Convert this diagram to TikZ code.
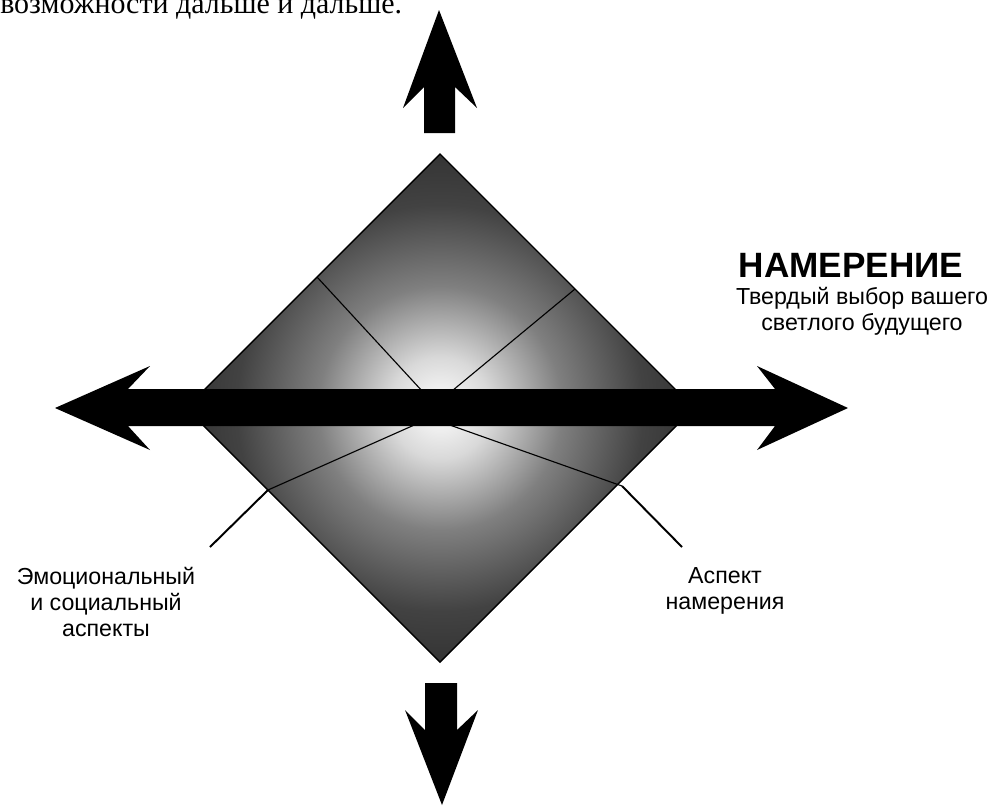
\documentclass[tikz,border=0pt]{standalone}
\usepackage{fontspec}
\setmainfont{Liberation Sans}
\newfontfamily\bookserif{Liberation Serif}
\usepackage{tikz}
\usepackage{xcolor}
\pgfdeclareradialshading{prismglow}{\pgfpoint{0bp}{0bp}}{%
  color(0bp)=(white); color(5bp)=(white!85!black); color(12bp)=(black!50);
  color(20bp)=(black!74); color(30bp)=(black!85); color(50bp)=(black!92)}

\begin{document}
\begin{tikzpicture}[x=0.025cm,y=-0.025cm,
    caption/.style={font=\fontsize{16.5}{18.5}\selectfont,align=center,inner sep=0pt},
    divider/.style={black,line width=0.8pt},
    leader/.style={black,line width=1.4pt}]
  \useasboundingbox (0,0) rectangle (991,805);
  % corners of the diamond
  \coordinate (top) at (440,154);
  \coordinate (rgt) at (694,408);
  \coordinate (bot) at (440,662);
  \coordinate (lft) at (186,408);
  \coordinate (hubU) at (435,405);
  \coordinate (hubL) at (430,418);
  \coordinate (ulEdge) at (317,277);
  \coordinate (urEdge) at (575,289);
  \coordinate (llEdge) at (268,490);
  \coordinate (lrEdge) at (622,486);
  \coordinate (emoEnd) at (210,547);
  \coordinate (aimEnd) at (682,547);
  \node[font=\bookserif\fontsize{21.3}{25}\selectfont,anchor=base west,inner sep=0pt] (prose) at (0,13) {возможности дальше и дальше.};
  \shade[shading=prismglow] (top) -- (rgt) -- (bot) -- (lft) -- cycle;
  \draw[black,line width=1pt] (top) -- (rgt) -- (bot) -- (lft) -- cycle;
  \draw[divider] (ulEdge) -- (hubU);
  \draw[divider] (urEdge) -- (hubU);
  \draw[divider] (llEdge) -- (hubL);
  \draw[divider] (lrEdge) -- (hubL);
  % the big arrows
  \fill (55,408) -- (150,366) -- (128,389) -- (775,389) -- (757,366) -- (848,408)
    -- (757,450) -- (775,426) -- (128,426) -- (150,450) -- cycle;
  \fill (439,10) -- (477,108) -- (455,87) -- (455,133) -- (424,133) -- (424,87) -- (403,108) -- cycle;
  \fill (442,805) -- (478,710) -- (457,730) -- (457,683) -- (425,683) -- (425,730) -- (405,710) -- cycle;
  \node[font=\fontsize{25}{30}\selectfont\bfseries,anchor=base,inner sep=0pt] (intent) at (851,277) {НАМЕРЕНИЕ};
  \node[caption,anchor=north] (choice) at (862,287) {Твердый выбор вашего\\светлого будущего};
  \node[caption,anchor=north] (emo) at (106,567) {Эмоциональный\\и социальный\\аспекты};
  \node[caption,anchor=north] (aim) at (725,567) {Аспект\\намерения};
  \draw[leader] (llEdge) -- (emoEnd);
  \draw[leader] (lrEdge) -- (aimEnd);
\end{tikzpicture}
\end{document}
